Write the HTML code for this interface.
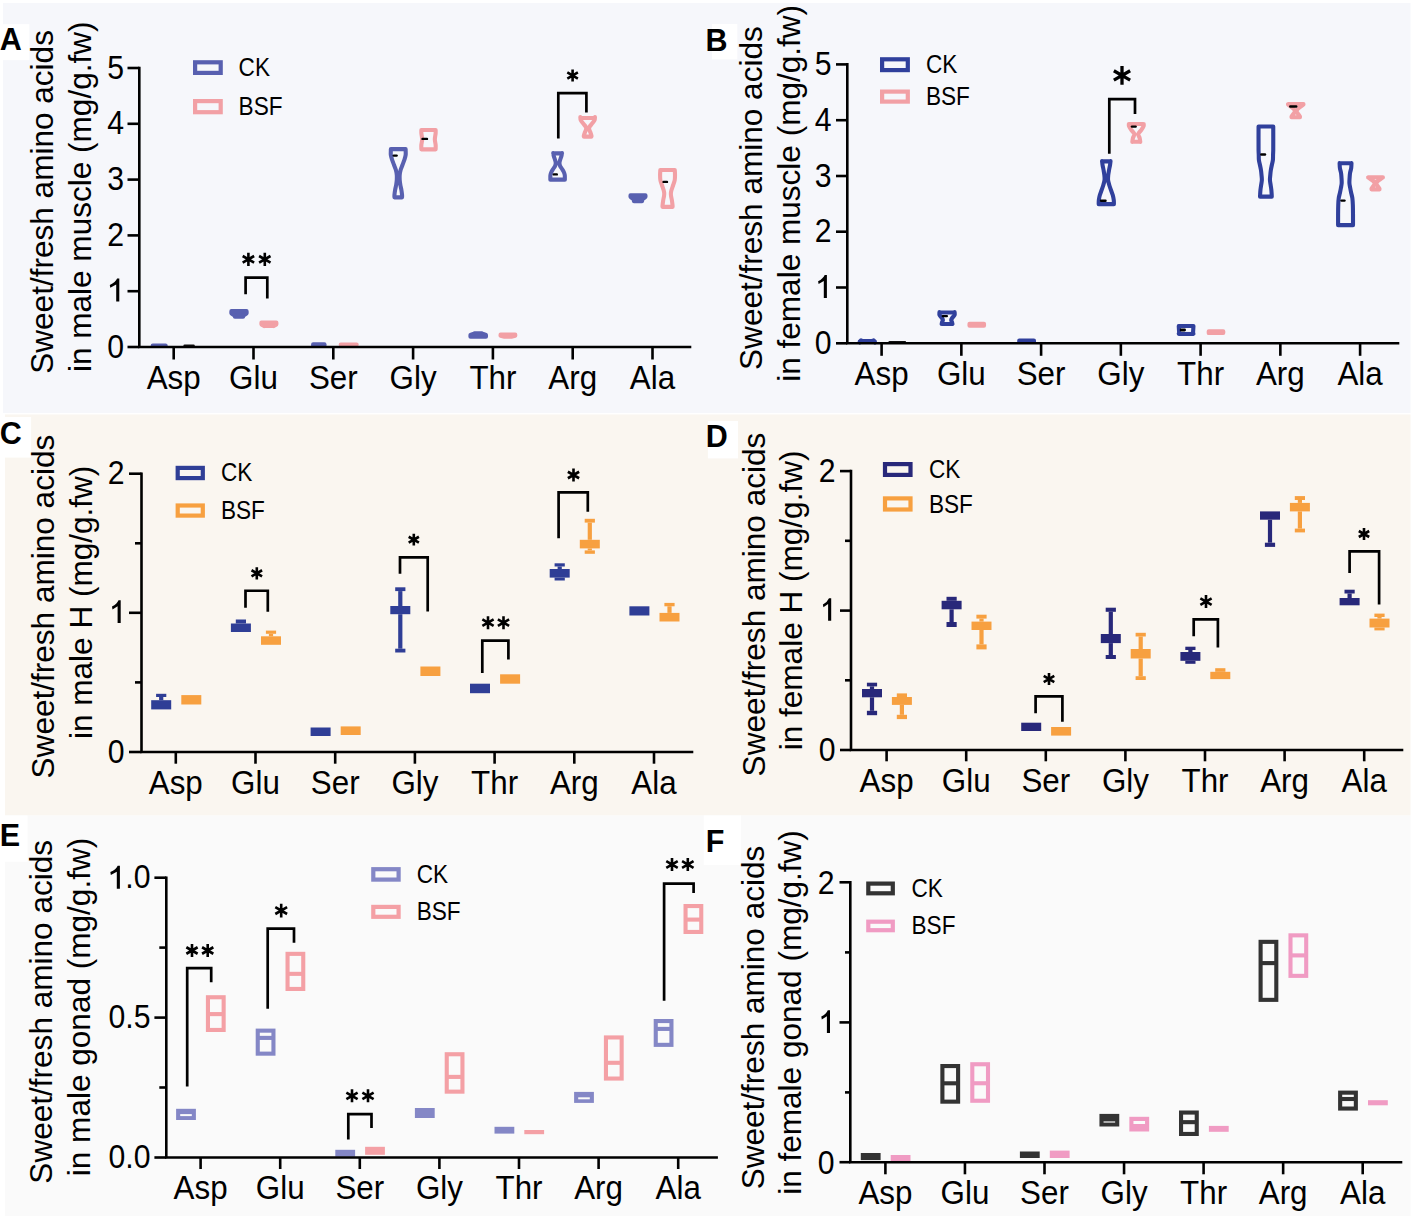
<!DOCTYPE html>
<html><head><meta charset="utf-8"><title>Sweet/fresh amino acids</title>
<style>html,body{margin:0;padding:0;background:#fff;width:1413px;height:1220px;overflow:hidden}svg{display:block}text{font-family:"Liberation Sans", sans-serif}</style>
</head><body>
<svg width="1413" height="1220" viewBox="0 0 1413 1220" font-family='"Liberation Sans", sans-serif' fill="#000">
<rect x="0" y="0" width="1413" height="1220" fill="#ffffff"/>
<rect x="3" y="3" width="1407.5" height="410" fill="#f6f7fb"/>
<rect x="5" y="414.5" width="1405.5" height="401" fill="#faf6f0"/>
<rect x="5" y="815.5" width="1405.5" height="400.5" fill="#fafafa"/>
<rect x="0" y="24.2" width="29.4" height="36" fill="#ffffff"/>
<rect x="712" y="24" width="25.3" height="35.4" fill="#ffffff"/>
<rect x="0" y="417" width="31.1" height="40.6" fill="#ffffff"/>
<rect x="707.9" y="421" width="30.1" height="37.4" fill="#ffffff"/>
<rect x="0" y="815.5" width="27.6" height="46.3" fill="#ffffff"/>
<rect x="703.7" y="815.5" width="37.3" height="49.5" fill="#ffffff"/>
<text x="-0.3" y="49.9" font-family='"Liberation Sans", sans-serif' font-weight="bold" font-size="30.5">A</text>
<text x="705.6" y="51" font-family='"Liberation Sans", sans-serif' font-weight="bold" font-size="30.5">B</text>
<text x="-0.2" y="444.4" font-family='"Liberation Sans", sans-serif' font-weight="bold" font-size="30.5">C</text>
<text x="705.7" y="446.8" font-family='"Liberation Sans", sans-serif' font-weight="bold" font-size="30.5">D</text>
<text x="-0.2" y="845.5" font-family='"Liberation Sans", sans-serif' font-weight="bold" font-size="30.5">E</text>
<text x="705.8" y="851.5" font-family='"Liberation Sans", sans-serif' font-weight="bold" font-size="30.5">F</text>
<path d="M165.65 345.75 L165.65 345.55 L152.75 345.55 L152.75 345.75Z" fill="#5860b0" stroke="#5860b0" stroke-width="4.1" stroke-linejoin="round"/>
<path d="M184.6 345.8H193.6" stroke="#111" stroke-width="2.4" stroke-linecap="round"/>
<path d="M246.55 311.05 C246.52 311.87 247.06 312.68 246.45 313.5 C245.96 314.17 243.95 314.83 243.25 315.5 C242.85 315.88 243.18 316.27 243.15 316.65 L234.85 316.65 C234.82 316.27 235.15 315.88 234.75 315.5 C234.05 314.83 232.04 314.17 231.55 313.5 C230.94 312.68 231.48 311.87 231.45 311.05Z" fill="#5860b0" stroke="#5860b0" stroke-width="4.1" stroke-linejoin="round"/>
<path d="M276.35 322.45 C276.32 323.13 276.73 323.82 276.25 324.5 C275.9 325 274.68 325.5 273.85 326 C273.88 325.98 273.85 325.97 273.85 325.95 L263.95 325.95 C263.95 325.97 263.92 325.98 263.95 326 C263.12 325.5 261.9 325 261.55 324.5 C261.07 323.82 261.48 323.13 261.45 322.45Z" fill="#f2a0a5" stroke="#f2a0a5" stroke-width="4.1" stroke-linejoin="round"/>
<path d="M324.45 344.25 L324.45 345.45 L313.15 345.45 L313.15 344.25Z" fill="#5860b0" stroke="#5860b0" stroke-width="4.1" stroke-linejoin="round"/>
<path d="M356.65 344.65 L356.65 344.45 L340.75 344.45 L340.75 344.65Z" fill="#f2a0a5" stroke="#f2a0a5" stroke-width="4.1" stroke-linejoin="round"/>
<path d="M405.65 149.15 C405.65 149.43 405.65 149.72 405.65 150 C405.65 151.67 405.88 153.33 405.65 155 C405.42 156.67 404.83 158.33 404.3 160 C403.77 161.67 403.07 163.33 402.45 165 C401.83 166.67 401.06 168.33 400.6 170 C400.14 171.67 399.85 173.33 399.7 175 C399.55 176.67 399.59 178.33 399.7 180 C399.81 181.67 400.07 183.33 400.35 185 C400.63 186.67 401.12 188.33 401.4 190 C401.68 191.67 401.9 193.33 402.05 195 C402.12 195.78 402.05 196.57 402.05 197.35 L394.45 197.35 C394.45 196.57 394.38 195.78 394.45 195 C394.6 193.33 394.82 191.67 395.1 190 C395.38 188.33 395.87 186.67 396.15 185 C396.43 183.33 396.69 181.67 396.8 180 C396.91 178.33 396.95 176.67 396.8 175 C396.65 173.33 396.36 171.67 395.9 170 C395.44 168.33 394.67 166.67 394.05 165 C393.43 163.33 392.73 161.67 392.2 160 C391.67 158.33 391.08 156.67 390.85 155 C390.62 153.33 390.85 151.67 390.85 150 C390.85 149.72 390.85 149.43 390.85 149.15Z" fill="none" stroke="#5860b0" stroke-width="4.1" stroke-linejoin="round"/>
<path d="M393.8 155.6H396.6" stroke="#000" stroke-width="2.4" stroke-linecap="round"/>
<path d="M435.65 129.95 C435.65 129.97 435.65 129.98 435.65 130 C435.65 131 435.73 132 435.65 133 C435.47 135.17 434.85 137.33 434.85 139.5 C434.85 141.33 435.5 143.17 435.65 145 C435.76 146.33 435.65 147.67 435.65 149 C435.65 149.12 435.65 149.23 435.65 149.35 L421.35 149.35 C421.35 149.23 421.35 149.12 421.35 149 C421.35 147.67 421.24 146.33 421.35 145 C421.5 143.17 422.15 141.33 422.15 139.5 C422.15 137.33 421.53 135.17 421.35 133 C421.27 132 421.35 131 421.35 130 C421.35 129.98 421.35 129.97 421.35 129.95Z" fill="none" stroke="#f2a0a5" stroke-width="4.1" stroke-linejoin="round"/>
<path d="M422.5 138.9H427" stroke="#000" stroke-width="2.4" stroke-linecap="round"/>
<path d="M481.95 333.35 L482.45 333.6 L485.95 335 L485.95 336.75 L470.45 336.75 L470.45 335 L473.95 333.6 L474.45 333.35Z" fill="#5860b0" stroke="#5860b0" stroke-width="4.1" stroke-linejoin="round"/>
<path d="M515.25 334.65 L515.25 335.8 L511.35 336.8 L511.15 336.75 L504.65 336.75 L504.45 336.8 L500.55 335.8 L500.55 334.65Z" fill="#f2a0a5" stroke="#f2a0a5" stroke-width="4.1" stroke-linejoin="round"/>
<path d="M562.05 153.35 C562.02 153.23 561.92 153.12 561.95 153 C561.72 154 561.71 155 561.45 156 C561.1 157.33 560.48 158.67 560.1 160 C559.81 161 559.45 162 559.45 163 C559.45 164 559.67 165 560.1 166 C560.53 167 561.43 168 562.05 169 C562.67 170 563.35 171 563.8 172 C564.25 173 564.58 174 564.75 175 C564.92 176 564.83 177 564.85 178 C564.86 178.55 564.85 179.1 564.85 179.65 L550.35 179.65 C550.35 179.1 550.34 178.55 550.35 178 C550.37 177 550.28 176 550.45 175 C550.62 174 550.95 173 551.4 172 C551.85 171 552.53 170 553.15 169 C553.77 168 554.67 167 555.1 166 C555.53 165 555.75 164 555.75 163 C555.75 162 555.39 161 555.1 160 C554.72 158.67 554.1 157.33 553.75 156 C553.49 155 553.48 154 553.25 153 C553.28 153.12 553.18 153.23 553.15 153.35Z" fill="none" stroke="#5860b0" stroke-width="4.1" stroke-linejoin="round"/>
<path d="M553.8 174.4H556.8" stroke="#000" stroke-width="2.4" stroke-linecap="round"/>
<path d="M594.95 117.95 C594.95 117.63 594.9 117.32 594.95 117 C594.78 118 595.01 119 594.6 120 C594.19 121 593.26 122 592.5 123 C591.74 124 590.73 125 590.05 126 C589.6 126.67 589.21 127.33 589.1 128 C588.99 128.67 589.2 129.33 589.4 130 C589.7 131 590.25 132 590.6 133 C590.95 134 591.28 135 591.5 136 C591.55 136.22 591.43 136.43 591.4 136.65 L583.9 136.65 C583.87 136.43 583.75 136.22 583.8 136 C584.02 135 584.35 134 584.7 133 C585.05 132 585.6 131 585.9 130 C586.1 129.33 586.31 128.67 586.2 128 C586.09 127.33 585.7 126.67 585.25 126 C584.57 125 583.56 124 582.8 123 C582.04 122 581.11 121 580.7 120 C580.29 119 580.52 118 580.35 117 C580.4 117.32 580.35 117.63 580.35 117.95Z" fill="none" stroke="#f2a0a5" stroke-width="4.1" stroke-linejoin="round"/>
<path d="M645.45 195.25 C645.42 195.83 645.79 196.42 645.35 197 C644.72 197.83 642.91 198.67 642.25 199.5 C641.81 200.05 642.12 200.6 642.05 201.15 L633.95 201.15 C633.88 200.6 634.19 200.05 633.75 199.5 C633.09 198.67 631.28 197.83 630.65 197 C630.21 196.42 630.58 195.83 630.55 195.25Z" fill="#5860b0" stroke="#5860b0" stroke-width="4.1" stroke-linejoin="round"/>
<path d="M674.8 169.95 C674.8 169.97 674.8 169.98 674.8 170 C674.87 171.67 675.01 173.33 675 175 C674.99 176.67 675.05 178.33 674.75 180 C674.45 181.67 673.74 183.33 673.2 185 C672.66 186.67 671.98 188.33 671.5 190 C671.21 191 670.98 192 670.9 193 C670.82 194 670.91 195 671.05 196 C671.23 197.33 671.64 198.67 671.85 200 C672.12 201.67 672.32 203.33 672.5 205 C672.57 205.62 672.57 206.23 672.6 206.85 L662.5 206.85 C662.53 206.23 662.53 205.62 662.6 205 C662.78 203.33 662.98 201.67 663.25 200 C663.46 198.67 663.87 197.33 664.05 196 C664.19 195 664.27 194 664.2 193 C664.12 192 663.89 191 663.6 190 C663.12 188.33 662.44 186.67 661.9 185 C661.36 183.33 660.65 181.67 660.35 180 C660.05 178.33 660.11 176.67 660.1 175 C660.09 173.33 660.23 171.67 660.3 170 C660.3 169.98 660.3 169.97 660.3 169.95Z" fill="none" stroke="#f2a0a5" stroke-width="4.1" stroke-linejoin="round"/>
<path d="M663.6 181.9H667" stroke="#000" stroke-width="2.4" stroke-linecap="round"/>
<path d="M245.6 294.2V277.65H267.3V298.4" stroke="#000" stroke-width="2.7" fill="none" stroke-linecap="butt" stroke-linejoin="miter"/>
<path d="M248.4 252.7V265.9M242.68 256L254.12 262.6M242.68 262.6L254.12 256" stroke="#000" stroke-width="2.6" fill="none"/>
<path d="M264.8 252.7V265.9M259.08 256L270.52 262.6M259.08 262.6L270.52 256" stroke="#000" stroke-width="2.6" fill="none"/>
<path d="M558.3 138.4V93.15H586.4V112.5" stroke="#000" stroke-width="2.7" fill="none" stroke-linecap="butt" stroke-linejoin="miter"/>
<path d="M572.6 69.4V81.6M567.32 72.45L577.88 78.55M567.32 78.55L577.88 72.45" stroke="#000" stroke-width="2.6" fill="none"/>
<path d="M139.3 68V347H690" stroke="#000" stroke-width="2.6" fill="none" stroke-linejoin="miter" stroke-linecap="square"/>
<path d="M127.5 68H139.3" stroke="#000" stroke-width="2.6"/>
<text transform="translate(124 78.6) scale(1 1.07)" font-size="30.2" text-anchor="end" >5</text>
<path d="M127.5 123.8H139.3" stroke="#000" stroke-width="2.6"/>
<text transform="translate(124 134.4) scale(1 1.07)" font-size="30.2" text-anchor="end" >4</text>
<path d="M127.5 179.6H139.3" stroke="#000" stroke-width="2.6"/>
<text transform="translate(124 190.2) scale(1 1.07)" font-size="30.2" text-anchor="end" >3</text>
<path d="M127.5 235.4H139.3" stroke="#000" stroke-width="2.6"/>
<text transform="translate(124 246) scale(1 1.07)" font-size="30.2" text-anchor="end" >2</text>
<path d="M127.5 291.2H139.3" stroke="#000" stroke-width="2.6"/>
<path d="M119.3 278.6L119.3 301.6L116.2 301.6L116.2 284.5L110.3 287.7L109.8 284.9Q115.6 282.2 117.1 278.6Z" fill="#000"/>
<path d="M127.5 347H139.3" stroke="#000" stroke-width="2.6"/>
<text transform="translate(124 357.6) scale(1 1.07)" font-size="30.2" text-anchor="end" >0</text>
<path d="M173.7 347V359.5" stroke="#000" stroke-width="2.6"/>
<text transform="translate(173.7 388.5) scale(1 1.08)" font-size="31.35" text-anchor="middle" >Asp</text>
<path d="M253.5 347V359.5" stroke="#000" stroke-width="2.6"/>
<text transform="translate(253.5 388.5) scale(1 1.08)" font-size="31.35" text-anchor="middle" >Glu</text>
<path d="M333.3 347V359.5" stroke="#000" stroke-width="2.6"/>
<text transform="translate(333.3 388.5) scale(1 1.08)" font-size="31.35" text-anchor="middle" >Ser</text>
<path d="M413.1 347V359.5" stroke="#000" stroke-width="2.6"/>
<text transform="translate(413.1 388.5) scale(1 1.08)" font-size="31.35" text-anchor="middle" >Gly</text>
<path d="M492.9 347V359.5" stroke="#000" stroke-width="2.6"/>
<text transform="translate(492.9 388.5) scale(1 1.08)" font-size="31.35" text-anchor="middle" >Thr</text>
<path d="M572.7 347V359.5" stroke="#000" stroke-width="2.6"/>
<text transform="translate(572.7 388.5) scale(1 1.08)" font-size="31.35" text-anchor="middle" >Arg</text>
<path d="M652.5 347V359.5" stroke="#000" stroke-width="2.6"/>
<text transform="translate(652.5 388.5) scale(1 1.08)" font-size="31.35" text-anchor="middle" >Ala</text>
<text transform="translate(52.8 201.9) rotate(-90)" font-size="31.55" text-anchor="middle">Sweet/fresh amino acids</text>
<text transform="translate(90.5 196.8) rotate(-90)" font-size="31.55" text-anchor="middle">in male muscle (mg/g.fw)</text>
<rect x="195.1" y="62.3" width="25.6" height="10.6" fill="none" stroke="#5860b0" stroke-width="4.2"/>
<text transform="translate(238.6 75.7) scale(1 1.1)" font-size="22.6" text-anchor="start" >CK</text>
<rect x="195.1" y="101.1" width="25.6" height="11.1" fill="none" stroke="#f2a0a5" stroke-width="4.2"/>
<text transform="translate(238.6 114.7) scale(1 1.1)" font-size="22.6" text-anchor="start" >BSF</text>
<path d="M871.75 340.95 C872.45 340.8 874.15 340.65 873.85 340.5 C875.2 341.17 874.16 341.83 874.9 342.5 C874.51 342.15 874.9 341.8 874.9 341.45 L859.7 341.45 C859.7 341.8 860.09 342.15 859.7 342.5 C860.44 341.83 859.4 341.17 860.75 340.5 C860.45 340.65 862.15 340.8 862.85 340.95Z" fill="#30409c" stroke="#30409c" stroke-width="4.1" stroke-linejoin="round"/>
<path d="M889.5 342.2H905" stroke="#111" stroke-width="2.3" stroke-linecap="round"/>
<path d="M954.6 312.45 C954.6 312.3 954.6 312.15 954.6 312 C954.6 313 955 314 954.6 315 C954.2 316 952.88 317 952.2 318 C951.75 318.67 951.23 319.33 951.2 320 C951.17 320.67 951.8 321.33 952 322 C952.2 322.67 952.23 323.33 952.4 324 C952.4 323.98 952.47 323.97 952.5 323.95 L941.6 323.95 C941.63 323.97 941.7 323.98 941.7 324 C941.87 323.33 941.9 322.67 942.1 322 C942.3 321.33 942.93 320.67 942.9 320 C942.87 319.33 942.35 318.67 941.9 318 C941.22 317 939.9 316 939.5 315 C939.1 314 939.5 313 939.5 312 C939.5 312.15 939.5 312.3 939.5 312.45Z" fill="none" stroke="#30409c" stroke-width="4.1" stroke-linejoin="round"/>
<path d="M942.85 316.1H946.85" stroke="#000" stroke-width="2.4" stroke-linecap="round"/>
<path d="M984 323.85 L984 325.65 L969.5 325.65 L969.5 323.85Z" fill="#f2a0a5" stroke="#f2a0a5" stroke-width="4.1" stroke-linejoin="round"/>
<path d="M1033.95 340.55 L1033.95 341.25 L1019.25 341.25 L1019.25 340.55Z" fill="#30409c" stroke="#30409c" stroke-width="4.1" stroke-linejoin="round"/>
<path d="M1110.55 161.35 C1110.55 161.23 1110.53 161.12 1110.55 161 C1110.37 162.33 1110.27 163.67 1110.05 165 C1109.77 166.67 1109.35 168.33 1109.05 170 C1108.75 171.67 1108.42 173.33 1108.25 175 C1108.08 176.67 1107.88 178.33 1108.05 180 C1108.22 181.67 1108.77 183.33 1109.25 185 C1109.73 186.67 1110.37 188.33 1110.95 190 C1111.53 191.67 1112.28 193.33 1112.75 195 C1113.22 196.67 1113.51 198.33 1113.75 200 C1113.89 201 1113.86 202 1113.9 203 C1113.91 203.38 1113.9 203.77 1113.9 204.15 L1098.7 204.15 C1098.7 203.77 1098.69 203.38 1098.7 203 C1098.74 202 1098.71 201 1098.85 200 C1099.09 198.33 1099.38 196.67 1099.85 195 C1100.32 193.33 1101.07 191.67 1101.65 190 C1102.23 188.33 1102.87 186.67 1103.35 185 C1103.83 183.33 1104.38 181.67 1104.55 180 C1104.72 178.33 1104.52 176.67 1104.35 175 C1104.18 173.33 1103.85 171.67 1103.55 170 C1103.25 168.33 1102.83 166.67 1102.55 165 C1102.33 163.67 1102.23 162.33 1102.05 161 C1102.07 161.12 1102.05 161.23 1102.05 161.35Z" fill="none" stroke="#30409c" stroke-width="4.1" stroke-linejoin="round"/>
<path d="M1101.05 200.7H1105.55" stroke="#000" stroke-width="2.4" stroke-linecap="round"/>
<path d="M1143.75 124.05 C1143.73 124.03 1143.7 124.02 1143.7 124 C1143.67 124.67 1143.92 125.33 1143.65 126 C1143.11 127.33 1142.15 128.67 1141.25 130 C1140.35 131.33 1138.52 132.67 1138.25 134 C1137.98 135.33 1139.31 136.67 1139.65 138 C1139.99 139.33 1140.09 140.67 1140.3 142 C1140.29 141.92 1140.27 141.83 1140.25 141.75 L1132.35 141.75 C1132.33 141.83 1132.31 141.92 1132.3 142 C1132.51 140.67 1132.61 139.33 1132.95 138 C1133.29 136.67 1134.62 135.33 1134.35 134 C1134.08 132.67 1132.25 131.33 1131.35 130 C1130.45 128.67 1129.49 127.33 1128.95 126 C1128.68 125.33 1128.93 124.67 1128.9 124 C1128.9 124.02 1128.87 124.03 1128.85 124.05Z" fill="none" stroke="#f2a0a5" stroke-width="4.1" stroke-linejoin="round"/>
<path d="M1131.95 126.6H1135.65" stroke="#000" stroke-width="2.4" stroke-linecap="round"/>
<path d="M1193.45 326.05 L1193.05 332.5 L1193.45 333.85 L1178.75 333.85 L1179.15 332.5 L1178.75 326.05Z" fill="none" stroke="#30409c" stroke-width="4.1" stroke-linejoin="round"/>
<rect x="1181.1" y="328.3" width="9.9" height="3.5" fill="#f6f7fb"/>
<path d="M1181.1 330H1184.6" stroke="#000" stroke-width="2.8" stroke-linecap="round"/>
<path d="M1223.25 331.35 L1223.25 333 L1222.45 332.95 L1209.55 332.95 L1208.75 333 L1208.75 331.35Z" fill="#f2a0a5" stroke="#f2a0a5" stroke-width="4.1" stroke-linejoin="round"/>
<path d="M1273.25 126.55 C1273.25 126.7 1273.25 126.85 1273.25 127 C1273.25 134.67 1273.3 142.33 1273.25 150 C1273.24 151.67 1273.11 153.33 1273.05 155 C1272.99 156.67 1273.1 158.33 1272.9 160 C1272.7 161.67 1272.19 163.33 1271.85 165 C1271.51 166.67 1271.11 168.33 1270.85 170 C1270.59 171.67 1270.45 173.33 1270.3 175 C1270.15 176.67 1269.89 178.33 1269.95 180 C1270.01 181.67 1270.42 183.33 1270.65 185 C1270.88 186.67 1271.18 188.33 1271.35 190 C1271.53 191.67 1271.6 193.33 1271.7 195 C1271.73 195.55 1271.73 196.1 1271.75 196.65 L1260.05 196.65 C1260.07 196.1 1260.07 195.55 1260.1 195 C1260.2 193.33 1260.28 191.67 1260.45 190 C1260.62 188.33 1260.92 186.67 1261.15 185 C1261.38 183.33 1261.79 181.67 1261.85 180 C1261.91 178.33 1261.65 176.67 1261.5 175 C1261.35 173.33 1261.21 171.67 1260.95 170 C1260.69 168.33 1260.29 166.67 1259.95 165 C1259.61 163.33 1259.1 161.67 1258.9 160 C1258.7 158.33 1258.81 156.67 1258.75 155 C1258.69 153.33 1258.56 151.67 1258.55 150 C1258.5 142.33 1258.55 134.67 1258.55 127 C1258.55 126.85 1258.55 126.7 1258.55 126.55Z" fill="none" stroke="#30409c" stroke-width="4.1" stroke-linejoin="round"/>
<path d="M1261.3 154.5H1265" stroke="#000" stroke-width="2.4" stroke-linecap="round"/>
<path d="M1303.5 104.15 C1303.47 104.27 1303.52 104.38 1303.4 104.5 C1301.26 106.5 1297.28 108.5 1296.7 110.5 C1296.12 112.5 1298.92 114.5 1299.9 116.5 C1300.02 116.75 1299.97 117 1300 117.25 L1291.5 117.25 C1291.53 117 1291.48 116.75 1291.6 116.5 C1292.58 114.5 1295.38 112.5 1294.8 110.5 C1294.22 108.5 1290.24 106.5 1288.1 104.5 C1287.98 104.38 1288.03 104.27 1288 104.15Z" fill="none" stroke="#f2a0a5" stroke-width="4.1" stroke-linejoin="round"/>
<path d="M1290.25 106.5H1296.25" stroke="#000" stroke-width="2.4" stroke-linecap="round"/>
<path d="M1351.5 163.25 C1351.5 163.17 1351.49 163.08 1351.5 163 C1351.39 164.67 1351.44 166.33 1351.2 168 C1350.96 169.67 1350.32 171.33 1350.05 173 C1349.78 174.67 1349.71 176.33 1349.6 178 C1349.49 179.67 1349.3 181.33 1349.4 183 C1349.5 184.67 1349.9 186.33 1350.2 188 C1350.5 189.67 1350.84 191.33 1351.2 193 C1351.56 194.67 1352.12 196.33 1352.35 198 C1352.67 200.33 1352.76 202.67 1352.85 205 C1352.98 208.33 1352.98 211.67 1353 215 C1353.03 218.38 1353 221.77 1353 225.15 L1338.1 225.15 C1338.1 221.77 1338.07 218.38 1338.1 215 C1338.12 211.67 1338.12 208.33 1338.25 205 C1338.34 202.67 1338.43 200.33 1338.75 198 C1338.98 196.33 1339.54 194.67 1339.9 193 C1340.26 191.33 1340.6 189.67 1340.9 188 C1341.2 186.33 1341.6 184.67 1341.7 183 C1341.8 181.33 1341.61 179.67 1341.5 178 C1341.39 176.33 1341.32 174.67 1341.05 173 C1340.78 171.33 1340.14 169.67 1339.9 168 C1339.66 166.33 1339.71 164.67 1339.6 163 C1339.61 163.08 1339.6 163.17 1339.6 163.25Z" fill="none" stroke="#30409c" stroke-width="4.1" stroke-linejoin="round"/>
<path d="M1341.5 200.6H1344.5" stroke="#000" stroke-width="2.4" stroke-linecap="round"/>
<path d="M1382.9 177.35 C1382.88 177.4 1382.91 177.45 1382.85 177.5 C1380.76 179.27 1377 181.03 1376.45 182.8 C1375.86 184.7 1378.57 186.6 1379.45 188.5 C1379.58 188.78 1379.48 189.07 1379.5 189.35 L1371.5 189.35 C1371.52 189.07 1371.42 188.78 1371.55 188.5 C1372.43 186.6 1375.14 184.7 1374.55 182.8 C1374 181.03 1370.24 179.27 1368.15 177.5 C1368.09 177.45 1368.12 177.4 1368.1 177.35Z" fill="none" stroke="#f2a0a5" stroke-width="4.1" stroke-linejoin="round"/>
<path d="M1109.3 153.8V99.15H1135V113.9" stroke="#000" stroke-width="2.7" fill="none" stroke-linecap="butt" stroke-linejoin="miter"/>
<path d="M1122 66V84.8M1113.86 70.7L1130.14 80.1M1113.86 80.1L1130.14 70.7" stroke="#000" stroke-width="3.3" fill="none"/>
<path d="M847.3 64.4V343.3H1398" stroke="#000" stroke-width="2.6" fill="none" stroke-linejoin="miter" stroke-linecap="square"/>
<path d="M836 64.4H847.3" stroke="#000" stroke-width="2.6"/>
<text transform="translate(831.5 75) scale(1 1.07)" font-size="30.2" text-anchor="end" >5</text>
<path d="M836 120.2H847.3" stroke="#000" stroke-width="2.6"/>
<text transform="translate(831.5 130.8) scale(1 1.07)" font-size="30.2" text-anchor="end" >4</text>
<path d="M836 176H847.3" stroke="#000" stroke-width="2.6"/>
<text transform="translate(831.5 186.6) scale(1 1.07)" font-size="30.2" text-anchor="end" >3</text>
<path d="M836 231.7H847.3" stroke="#000" stroke-width="2.6"/>
<text transform="translate(831.5 242.3) scale(1 1.07)" font-size="30.2" text-anchor="end" >2</text>
<path d="M836 287.5H847.3" stroke="#000" stroke-width="2.6"/>
<path d="M826.9 275L826.9 298L823.8 298L823.8 280.9L818.6 284.1L818.1 281.3Q823.2 278.6 824.7 275Z" fill="#000"/>
<path d="M836 343.3H847.3" stroke="#000" stroke-width="2.6"/>
<text transform="translate(831.5 353.9) scale(1 1.07)" font-size="30.2" text-anchor="end" >0</text>
<path d="M881.6 343.3V355.8" stroke="#000" stroke-width="2.6"/>
<text transform="translate(881.6 384.8) scale(1 1.08)" font-size="31.35" text-anchor="middle" >Asp</text>
<path d="M961.35 343.3V355.8" stroke="#000" stroke-width="2.6"/>
<text transform="translate(961.35 384.8) scale(1 1.08)" font-size="31.35" text-anchor="middle" >Glu</text>
<path d="M1041.1 343.3V355.8" stroke="#000" stroke-width="2.6"/>
<text transform="translate(1041.1 384.8) scale(1 1.08)" font-size="31.35" text-anchor="middle" >Ser</text>
<path d="M1120.85 343.3V355.8" stroke="#000" stroke-width="2.6"/>
<text transform="translate(1120.85 384.8) scale(1 1.08)" font-size="31.35" text-anchor="middle" >Gly</text>
<path d="M1200.6 343.3V355.8" stroke="#000" stroke-width="2.6"/>
<text transform="translate(1200.6 384.8) scale(1 1.08)" font-size="31.35" text-anchor="middle" >Thr</text>
<path d="M1280.35 343.3V355.8" stroke="#000" stroke-width="2.6"/>
<text transform="translate(1280.35 384.8) scale(1 1.08)" font-size="31.35" text-anchor="middle" >Arg</text>
<path d="M1360.1 343.3V355.8" stroke="#000" stroke-width="2.6"/>
<text transform="translate(1360.1 384.8) scale(1 1.08)" font-size="31.35" text-anchor="middle" >Ala</text>
<text transform="translate(762.2 198.1) rotate(-90)" font-size="31.55" text-anchor="middle">Sweet/fresh amino acids</text>
<text transform="translate(799.5 193.35) rotate(-90)" font-size="31.55" text-anchor="middle">in female muscle (mg/g.fw)</text>
<rect x="882.1" y="59.3" width="25.7" height="10.8" fill="none" stroke="#30409c" stroke-width="4.2"/>
<text transform="translate(925.9 73) scale(1 1.1)" font-size="22.6" text-anchor="start" >CK</text>
<rect x="882.1" y="91.6" width="25.7" height="10" fill="none" stroke="#f2a0a5" stroke-width="4.2"/>
<text transform="translate(925.9 105) scale(1 1.1)" font-size="22.6" text-anchor="start" >BSF</text>
<rect x="151.2" y="700.2" width="20" height="9.2" fill="#2f3e96"/>
<rect x="159.1" y="697" width="4.2" height="3.2" fill="#2f3e96"/>
<rect x="156.1" y="693.8" width="10.2" height="3.2" fill="#2f3e96"/>
<rect x="181.3" y="695.1" width="20" height="9.4" fill="#f7a040"/>
<rect x="230.9" y="623.5" width="20" height="8.5" fill="#2f3e96"/>
<rect x="238.8" y="623.5" width="4.2" height="0" fill="#2f3e96"/>
<rect x="235.8" y="619.5" width="10.2" height="4" fill="#2f3e96"/>
<rect x="261" y="636.3" width="20" height="8.5" fill="#f7a040"/>
<rect x="268.9" y="633.8" width="4.2" height="2.5" fill="#f7a040"/>
<rect x="265.9" y="630.6" width="10.2" height="3.2" fill="#f7a040"/>
<rect x="310.6" y="727.5" width="20" height="8.5" fill="#2f3e96"/>
<rect x="340.7" y="726.4" width="20" height="8.6" fill="#f7a040"/>
<rect x="390.3" y="606" width="20" height="8.2" fill="#2f3e96"/>
<rect x="398.2" y="591.1" width="4.2" height="14.9" fill="#2f3e96"/>
<rect x="395.2" y="587.3" width="10.2" height="3.8" fill="#2f3e96"/>
<rect x="398.2" y="614.2" width="4.2" height="34.5" fill="#2f3e96"/>
<rect x="395.2" y="648.7" width="10.2" height="3.8" fill="#2f3e96"/>
<rect x="420.4" y="666.5" width="20" height="9.5" fill="#f7a040"/>
<rect x="470" y="683.7" width="20" height="9.5" fill="#2f3e96"/>
<rect x="500.1" y="674.3" width="20" height="9.4" fill="#f7a040"/>
<rect x="549.7" y="569" width="20" height="8.6" fill="#2f3e96"/>
<rect x="557.6" y="566.5" width="4.2" height="2.5" fill="#2f3e96"/>
<rect x="554.6" y="563.3" width="10.2" height="3.2" fill="#2f3e96"/>
<rect x="557.6" y="577.6" width="4.2" height="0" fill="#2f3e96"/>
<rect x="554.6" y="577.6" width="10.2" height="2.9" fill="#2f3e96"/>
<rect x="579.8" y="539.8" width="20" height="8.6" fill="#f7a040"/>
<rect x="587.7" y="522.6" width="4.2" height="17.2" fill="#f7a040"/>
<rect x="584.7" y="518.8" width="10.2" height="3.8" fill="#f7a040"/>
<rect x="587.7" y="548.4" width="4.2" height="2" fill="#f7a040"/>
<rect x="584.7" y="550.4" width="10.2" height="3.4" fill="#f7a040"/>
<rect x="629.4" y="606.3" width="20" height="9.2" fill="#2f3e96"/>
<rect x="659.5" y="612.9" width="20" height="8.6" fill="#f7a040"/>
<rect x="667.4" y="606.3" width="4.2" height="6.6" fill="#f7a040"/>
<rect x="664.4" y="602.9" width="10.2" height="3.4" fill="#f7a040"/>
<path d="M245.5 607.8V590.75H267.8V611.8" stroke="#000" stroke-width="2.7" fill="none" stroke-linecap="butt" stroke-linejoin="miter"/>
<path d="M256.8 567.2V579.4M251.52 570.25L262.08 576.35M251.52 576.35L262.08 570.25" stroke="#000" stroke-width="2.6" fill="none"/>
<path d="M400 573.7V557.35H427.7V611.4" stroke="#000" stroke-width="2.7" fill="none" stroke-linecap="butt" stroke-linejoin="miter"/>
<path d="M413.8 533.8V545.6M408.69 536.75L418.91 542.65M408.69 542.65L418.91 536.75" stroke="#000" stroke-width="2.6" fill="none"/>
<path d="M482.3 673V640.65H508.4V659.4" stroke="#000" stroke-width="2.7" fill="none" stroke-linecap="butt" stroke-linejoin="miter"/>
<path d="M488 616.2V629.2M482.37 619.45L493.63 625.95M482.37 625.95L493.63 619.45" stroke="#000" stroke-width="2.6" fill="none"/>
<path d="M503.5 616.2V629.2M497.87 619.45L509.13 625.95M497.87 625.95L509.13 619.45" stroke="#000" stroke-width="2.6" fill="none"/>
<path d="M558.6 538.3V492.35H587.8V511.7" stroke="#000" stroke-width="2.7" fill="none" stroke-linecap="butt" stroke-linejoin="miter"/>
<path d="M573.5 468.5V481.5M567.87 471.75L579.13 478.25M567.87 478.25L579.13 471.75" stroke="#000" stroke-width="2.6" fill="none"/>
<path d="M141.5 473.7V752H692" stroke="#000" stroke-width="2.6" fill="none" stroke-linejoin="miter" stroke-linecap="square"/>
<path d="M129 473.7H141.5" stroke="#000" stroke-width="2.6"/>
<text transform="translate(124.5 484.3) scale(1 1.07)" font-size="30.2" text-anchor="end" >2</text>
<path d="M129 612.8H141.5" stroke="#000" stroke-width="2.6"/>
<path d="M120.7 600.3L120.7 623L117.6 623L117.6 606.2L112.5 609.4L112 606.6Q117 603.9 118.5 600.3Z" fill="#000"/>
<path d="M129 752H141.5" stroke="#000" stroke-width="2.6"/>
<text transform="translate(124.5 762.6) scale(1 1.07)" font-size="30.2" text-anchor="end" >0</text>
<path d="M135 543.3H141.5" stroke="#000" stroke-width="2.6"/>
<path d="M135 682.4H141.5" stroke="#000" stroke-width="2.6"/>
<path d="M175.8 752V763.7" stroke="#000" stroke-width="2.6"/>
<text transform="translate(175.8 793.5) scale(1 1.08)" font-size="31.35" text-anchor="middle" >Asp</text>
<path d="M255.5 752V763.7" stroke="#000" stroke-width="2.6"/>
<text transform="translate(255.5 793.5) scale(1 1.08)" font-size="31.35" text-anchor="middle" >Glu</text>
<path d="M335.2 752V763.7" stroke="#000" stroke-width="2.6"/>
<text transform="translate(335.2 793.5) scale(1 1.08)" font-size="31.35" text-anchor="middle" >Ser</text>
<path d="M414.9 752V763.7" stroke="#000" stroke-width="2.6"/>
<text transform="translate(414.9 793.5) scale(1 1.08)" font-size="31.35" text-anchor="middle" >Gly</text>
<path d="M494.6 752V763.7" stroke="#000" stroke-width="2.6"/>
<text transform="translate(494.6 793.5) scale(1 1.08)" font-size="31.35" text-anchor="middle" >Thr</text>
<path d="M574.3 752V763.7" stroke="#000" stroke-width="2.6"/>
<text transform="translate(574.3 793.5) scale(1 1.08)" font-size="31.35" text-anchor="middle" >Arg</text>
<path d="M654 752V763.7" stroke="#000" stroke-width="2.6"/>
<text transform="translate(654 793.5) scale(1 1.08)" font-size="31.35" text-anchor="middle" >Ala</text>
<text transform="translate(54.1 606.6) rotate(-90)" font-size="31.55" text-anchor="middle">Sweet/fresh amino acids</text>
<text transform="translate(91.8 602.35) rotate(-90)" font-size="31.55" text-anchor="middle">in male H (mg/g.fw)</text>
<rect x="177.7" y="467.9" width="25.1" height="10.2" fill="none" stroke="#2f3e96" stroke-width="4.2"/>
<text transform="translate(220.9 481.2) scale(1 1.1)" font-size="22.6" text-anchor="start" >CK</text>
<rect x="177.7" y="505.5" width="25.1" height="10.1" fill="none" stroke="#f7a040" stroke-width="4.2"/>
<text transform="translate(220.9 518.9) scale(1 1.1)" font-size="22.6" text-anchor="start" >BSF</text>
<rect x="862" y="689" width="20" height="8.3" fill="#28287a"/>
<rect x="869.9" y="686.4" width="4.2" height="2.6" fill="#28287a"/>
<rect x="866.9" y="682.7" width="10.2" height="3.7" fill="#28287a"/>
<rect x="869.9" y="697.3" width="4.2" height="13.5" fill="#28287a"/>
<rect x="866.9" y="710.8" width="10.2" height="4.4" fill="#28287a"/>
<rect x="891.9" y="697" width="20" height="7.9" fill="#f7a040"/>
<rect x="899.8" y="697" width="4.2" height="0" fill="#f7a040"/>
<rect x="896.8" y="693.4" width="10.2" height="3.6" fill="#f7a040"/>
<rect x="899.8" y="704.9" width="4.2" height="9.9" fill="#f7a040"/>
<rect x="896.8" y="714.8" width="10.2" height="4.3" fill="#f7a040"/>
<rect x="941.6" y="600.8" width="20" height="8.5" fill="#28287a"/>
<rect x="949.5" y="600.8" width="4.2" height="0" fill="#28287a"/>
<rect x="946.5" y="596.8" width="10.2" height="4" fill="#28287a"/>
<rect x="949.5" y="609.3" width="4.2" height="12.7" fill="#28287a"/>
<rect x="946.5" y="622" width="10.2" height="5" fill="#28287a"/>
<rect x="971.5" y="621.6" width="20" height="8.4" fill="#f7a040"/>
<rect x="979.4" y="618.6" width="4.2" height="3" fill="#f7a040"/>
<rect x="976.4" y="614.7" width="10.2" height="3.9" fill="#f7a040"/>
<rect x="979.4" y="630" width="4.2" height="14.4" fill="#f7a040"/>
<rect x="976.4" y="644.4" width="10.2" height="5" fill="#f7a040"/>
<rect x="1021.2" y="722.7" width="20" height="8.3" fill="#28287a"/>
<rect x="1051.1" y="727" width="20" height="8.6" fill="#f7a040"/>
<rect x="1100.8" y="634" width="20" height="9.1" fill="#28287a"/>
<rect x="1108.7" y="611.8" width="4.2" height="22.2" fill="#28287a"/>
<rect x="1105.7" y="607.7" width="10.2" height="4.1" fill="#28287a"/>
<rect x="1108.7" y="643.1" width="4.2" height="11.9" fill="#28287a"/>
<rect x="1105.7" y="655" width="10.2" height="4" fill="#28287a"/>
<rect x="1130.7" y="649" width="20" height="9.5" fill="#f7a040"/>
<rect x="1138.6" y="636.5" width="4.2" height="12.5" fill="#f7a040"/>
<rect x="1135.6" y="632.8" width="10.2" height="3.7" fill="#f7a040"/>
<rect x="1138.6" y="658.5" width="4.2" height="17.7" fill="#f7a040"/>
<rect x="1135.6" y="676.2" width="10.2" height="3.8" fill="#f7a040"/>
<rect x="1180.4" y="652" width="20" height="8.8" fill="#28287a"/>
<rect x="1188.3" y="650" width="4.2" height="2" fill="#28287a"/>
<rect x="1185.3" y="646.7" width="10.2" height="3.3" fill="#28287a"/>
<rect x="1188.3" y="660.8" width="4.2" height="0" fill="#28287a"/>
<rect x="1185.3" y="660.8" width="10.2" height="3" fill="#28287a"/>
<rect x="1210.3" y="671.8" width="20" height="7.3" fill="#f7a040"/>
<rect x="1218.2" y="671.8" width="4.2" height="0" fill="#f7a040"/>
<rect x="1215.2" y="668.2" width="10.2" height="3.6" fill="#f7a040"/>
<rect x="1260" y="511.4" width="20" height="8.3" fill="#28287a"/>
<rect x="1267.9" y="519.7" width="4.2" height="23" fill="#28287a"/>
<rect x="1264.9" y="542.7" width="10.2" height="4.2" fill="#28287a"/>
<rect x="1289.9" y="502.9" width="20" height="8.5" fill="#f7a040"/>
<rect x="1297.8" y="500" width="4.2" height="2.9" fill="#f7a040"/>
<rect x="1294.8" y="496.1" width="10.2" height="3.9" fill="#f7a040"/>
<rect x="1297.8" y="511.4" width="4.2" height="17.2" fill="#f7a040"/>
<rect x="1294.8" y="528.6" width="10.2" height="3.8" fill="#f7a040"/>
<rect x="1339.6" y="598" width="20" height="7.3" fill="#28287a"/>
<rect x="1347.5" y="593.5" width="4.2" height="4.5" fill="#28287a"/>
<rect x="1344.5" y="589.7" width="10.2" height="3.8" fill="#28287a"/>
<rect x="1369.5" y="618.6" width="20" height="8.9" fill="#f7a040"/>
<rect x="1377.4" y="617" width="4.2" height="1.6" fill="#f7a040"/>
<rect x="1374.4" y="613.6" width="10.2" height="3.4" fill="#f7a040"/>
<rect x="1377.4" y="627.5" width="4.2" height="0" fill="#f7a040"/>
<rect x="1374.4" y="627.5" width="10.2" height="2.9" fill="#f7a040"/>
<path d="M1035.6 713.2V696.35H1062.4V721.7" stroke="#000" stroke-width="2.7" fill="none" stroke-linecap="butt" stroke-linejoin="miter"/>
<path d="M1049 672.9V685.1M1043.72 675.95L1054.28 682.05M1043.72 682.05L1054.28 675.95" stroke="#000" stroke-width="2.6" fill="none"/>
<path d="M1193.7 636.3V619.35H1217.9V647.6" stroke="#000" stroke-width="2.7" fill="none" stroke-linecap="butt" stroke-linejoin="miter"/>
<path d="M1206 595.1V608.1M1200.37 598.35L1211.63 604.85M1200.37 604.85L1211.63 598.35" stroke="#000" stroke-width="2.6" fill="none"/>
<path d="M1349.6 572.9V551.45H1379.1V604.5" stroke="#000" stroke-width="2.7" fill="none" stroke-linecap="butt" stroke-linejoin="miter"/>
<path d="M1364 528V540M1358.8 531L1369.2 537M1358.8 537L1369.2 531" stroke="#000" stroke-width="2.6" fill="none"/>
<path d="M851 471.1V750H1402" stroke="#000" stroke-width="2.6" fill="none" stroke-linejoin="miter" stroke-linecap="square"/>
<path d="M840 471.1H851" stroke="#000" stroke-width="2.6"/>
<text transform="translate(835.5 481.7) scale(1 1.07)" font-size="30.2" text-anchor="end" >2</text>
<path d="M840 610.6H851" stroke="#000" stroke-width="2.6"/>
<path d="M831.2 598.2L831.2 620.7L828.1 620.7L828.1 604.1L823.4 607.3L822.9 604.5Q827.5 601.8 829 598.2Z" fill="#000"/>
<path d="M840 750H851" stroke="#000" stroke-width="2.6"/>
<text transform="translate(835.5 760.6) scale(1 1.07)" font-size="30.2" text-anchor="end" >0</text>
<path d="M845 540.8H851" stroke="#000" stroke-width="2.6"/>
<path d="M845 680.3H851" stroke="#000" stroke-width="2.6"/>
<path d="M886.6 750V761.3" stroke="#000" stroke-width="2.6"/>
<text transform="translate(886.6 791.5) scale(1 1.08)" font-size="31.35" text-anchor="middle" >Asp</text>
<path d="M966.2 750V761.3" stroke="#000" stroke-width="2.6"/>
<text transform="translate(966.2 791.5) scale(1 1.08)" font-size="31.35" text-anchor="middle" >Glu</text>
<path d="M1045.8 750V761.3" stroke="#000" stroke-width="2.6"/>
<text transform="translate(1045.8 791.5) scale(1 1.08)" font-size="31.35" text-anchor="middle" >Ser</text>
<path d="M1125.4 750V761.3" stroke="#000" stroke-width="2.6"/>
<text transform="translate(1125.4 791.5) scale(1 1.08)" font-size="31.35" text-anchor="middle" >Gly</text>
<path d="M1205 750V761.3" stroke="#000" stroke-width="2.6"/>
<text transform="translate(1205 791.5) scale(1 1.08)" font-size="31.35" text-anchor="middle" >Thr</text>
<path d="M1284.6 750V761.3" stroke="#000" stroke-width="2.6"/>
<text transform="translate(1284.6 791.5) scale(1 1.08)" font-size="31.35" text-anchor="middle" >Arg</text>
<path d="M1364.2 750V761.3" stroke="#000" stroke-width="2.6"/>
<text transform="translate(1364.2 791.5) scale(1 1.08)" font-size="31.35" text-anchor="middle" >Ala</text>
<text transform="translate(765 604.55) rotate(-90)" font-size="31.55" text-anchor="middle">Sweet/fresh amino acids</text>
<text transform="translate(802 600.4) rotate(-90)" font-size="31.55" text-anchor="middle">in female H (mg/g.fw)</text>
<rect x="885" y="464.1" width="25.5" height="10.8" fill="none" stroke="#28287a" stroke-width="4.2"/>
<text transform="translate(928.9 477.9) scale(1 1.1)" font-size="22.6" text-anchor="start" >CK</text>
<rect x="885" y="498.4" width="25.5" height="11.1" fill="none" stroke="#f7a040" stroke-width="4.2"/>
<text transform="translate(928.9 512.5) scale(1 1.1)" font-size="22.6" text-anchor="start" >BSF</text>
<rect x="176.1" y="1108.8" width="19.8" height="11.2" fill="#8487c6"/>
<rect x="180.2" y="1114.1" width="11.6" height="2" fill="#fafafa"/>
<rect x="207.95" y="997.25" width="15.7" height="32.7" fill="none" stroke="#f4a0a5" stroke-width="4.1"/>
<path d="M207.95 1014.1H223.65" stroke="#f4a0a5" stroke-width="4.1"/>
<rect x="257.75" y="1030.65" width="15.7" height="23" fill="none" stroke="#8487c6" stroke-width="4.1"/>
<path d="M257.75 1037.9H273.45" stroke="#8487c6" stroke-width="4.1"/>
<rect x="287.55" y="953.85" width="15.7" height="35.1" fill="none" stroke="#f4a0a5" stroke-width="4.1"/>
<path d="M287.55 973.85H303.25" stroke="#f4a0a5" stroke-width="4.1"/>
<rect x="335.3" y="1149.8" width="19.8" height="6.9" fill="#8487c6"/>
<rect x="365.1" y="1146.8" width="19.8" height="8" fill="#f4a0a5"/>
<rect x="414.9" y="1108" width="19.8" height="10" fill="#8487c6"/>
<rect x="446.75" y="1054.25" width="15.7" height="37.4" fill="none" stroke="#f4a0a5" stroke-width="4.1"/>
<path d="M446.75 1076.9H462.45" stroke="#f4a0a5" stroke-width="4.1"/>
<rect x="494.5" y="1126.8" width="19.8" height="6.8" fill="#8487c6"/>
<rect x="524.3" y="1130" width="19.8" height="4.2" fill="#f4a0a5"/>
<rect x="574.1" y="1091.9" width="19.8" height="11" fill="#8487c6"/>
<rect x="578.2" y="1097.3" width="11.6" height="2" fill="#fafafa"/>
<rect x="605.95" y="1037.45" width="15.7" height="41.1" fill="none" stroke="#f4a0a5" stroke-width="4.1"/>
<path d="M605.95 1062.8H621.65" stroke="#f4a0a5" stroke-width="4.1"/>
<rect x="655.75" y="1021.05" width="15.7" height="23.8" fill="none" stroke="#8487c6" stroke-width="4.1"/>
<path d="M655.75 1028.9H671.45" stroke="#8487c6" stroke-width="4.1"/>
<rect x="685.55" y="906.05" width="15.7" height="25.9" fill="none" stroke="#f4a0a5" stroke-width="4.1"/>
<path d="M685.55 919.6H701.25" stroke="#f4a0a5" stroke-width="4.1"/>
<path d="M187.2 1086.4V968.15H211.2V982.3" stroke="#000" stroke-width="2.7" fill="none" stroke-linecap="butt" stroke-linejoin="miter"/>
<path d="M192 944V957M186.37 947.25L197.63 953.75M186.37 953.75L197.63 947.25" stroke="#000" stroke-width="2.6" fill="none"/>
<path d="M207.7 944V957M202.07 947.25L213.33 953.75M202.07 953.75L213.33 947.25" stroke="#000" stroke-width="2.6" fill="none"/>
<path d="M267.7 1008.8V928.55H294V942.7" stroke="#000" stroke-width="2.7" fill="none" stroke-linecap="butt" stroke-linejoin="miter"/>
<path d="M281.2 903.8V917.4M275.31 907.2L287.09 914M275.31 914L287.09 907.2" stroke="#000" stroke-width="2.6" fill="none"/>
<path d="M348.3 1139.5V1114.05H371.5V1128" stroke="#000" stroke-width="2.7" fill="none" stroke-linecap="butt" stroke-linejoin="miter"/>
<path d="M352 1089.3V1102.3M346.37 1092.55L357.63 1099.05M346.37 1099.05L357.63 1092.55" stroke="#000" stroke-width="2.6" fill="none"/>
<path d="M368 1089.3V1102.3M362.37 1092.55L373.63 1099.05M362.37 1099.05L373.63 1092.55" stroke="#000" stroke-width="2.6" fill="none"/>
<path d="M664.1 1000.8V883.55H693.6V893.1" stroke="#000" stroke-width="2.7" fill="none" stroke-linecap="butt" stroke-linejoin="miter"/>
<path d="M672 857.9V871.1M666.28 861.2L677.72 867.8M666.28 867.8L677.72 861.2" stroke="#000" stroke-width="2.6" fill="none"/>
<path d="M687.8 857.9V871.1M682.08 861.2L693.52 867.8M682.08 867.8L693.52 861.2" stroke="#000" stroke-width="2.6" fill="none"/>
<path d="M166.3 877.7V1157.5H716.6" stroke="#000" stroke-width="2.6" fill="none" stroke-linejoin="miter" stroke-linecap="square"/>
<path d="M154.4 877.7H166.3" stroke="#000" stroke-width="2.6"/>
<path d="M119.9 865.8L119.9 888.7L116.8 888.7L116.8 871.7L110.85 874.9L110.35 872.1Q116.2 869.4 117.7 865.8Z" fill="#000"/>
<text transform="translate(150.5 888.3) scale(1 1.07)" font-size="30.2" text-anchor="end" >.0</text>
<path d="M154.4 1017.6H166.3" stroke="#000" stroke-width="2.6"/>
<text transform="translate(150.5 1028.2) scale(1 1.07)" font-size="30.2" text-anchor="end" >0.5</text>
<path d="M154.4 1157.5H166.3" stroke="#000" stroke-width="2.6"/>
<text transform="translate(150.5 1168.1) scale(1 1.07)" font-size="30.2" text-anchor="end" >0.0</text>
<path d="M159.3 947.6H166.3" stroke="#000" stroke-width="2.6"/>
<path d="M159.3 1087.5H166.3" stroke="#000" stroke-width="2.6"/>
<path d="M200.6 1157.5V1169" stroke="#000" stroke-width="2.6"/>
<text transform="translate(200.6 1199) scale(1 1.08)" font-size="31.35" text-anchor="middle" >Asp</text>
<path d="M280.2 1157.5V1169" stroke="#000" stroke-width="2.6"/>
<text transform="translate(280.2 1199) scale(1 1.08)" font-size="31.35" text-anchor="middle" >Glu</text>
<path d="M359.8 1157.5V1169" stroke="#000" stroke-width="2.6"/>
<text transform="translate(359.8 1199) scale(1 1.08)" font-size="31.35" text-anchor="middle" >Ser</text>
<path d="M439.4 1157.5V1169" stroke="#000" stroke-width="2.6"/>
<text transform="translate(439.4 1199) scale(1 1.08)" font-size="31.35" text-anchor="middle" >Gly</text>
<path d="M519 1157.5V1169" stroke="#000" stroke-width="2.6"/>
<text transform="translate(519 1199) scale(1 1.08)" font-size="31.35" text-anchor="middle" >Thr</text>
<path d="M598.6 1157.5V1169" stroke="#000" stroke-width="2.6"/>
<text transform="translate(598.6 1199) scale(1 1.08)" font-size="31.35" text-anchor="middle" >Arg</text>
<path d="M678.2 1157.5V1169" stroke="#000" stroke-width="2.6"/>
<text transform="translate(678.2 1199) scale(1 1.08)" font-size="31.35" text-anchor="middle" >Ala</text>
<text transform="translate(52.3 1011.8) rotate(-90)" font-size="31.55" text-anchor="middle">Sweet/fresh amino acids</text>
<text transform="translate(89.6 1007) rotate(-90)" font-size="31.55" text-anchor="middle">in male gonad (mg/g.fw)</text>
<rect x="373.3" y="869.2" width="25.3" height="10.4" fill="none" stroke="#8487c6" stroke-width="4.2"/>
<text transform="translate(416.7 882.7) scale(1 1.1)" font-size="22.6" text-anchor="start" >CK</text>
<rect x="373.3" y="906.9" width="25.3" height="9.9" fill="none" stroke="#f4a0a5" stroke-width="4.2"/>
<text transform="translate(416.7 920.2) scale(1 1.1)" font-size="22.6" text-anchor="start" >BSF</text>
<rect x="860.8" y="1153" width="19.8" height="7.1" fill="#333333"/>
<rect x="890.7" y="1155" width="19.8" height="6.6" fill="#f09bc3"/>
<rect x="942.4" y="1066.05" width="15.7" height="35.6" fill="none" stroke="#333333" stroke-width="4.1"/>
<path d="M942.4 1083.3H958.1" stroke="#333333" stroke-width="4.1"/>
<rect x="972.3" y="1064.25" width="15.7" height="36.5" fill="none" stroke="#f09bc3" stroke-width="4.1"/>
<path d="M972.3 1083.25H988" stroke="#f09bc3" stroke-width="4.1"/>
<rect x="1019.9" y="1151.5" width="19.8" height="6.5" fill="#333333"/>
<rect x="1049.8" y="1150.6" width="19.8" height="7.4" fill="#f09bc3"/>
<rect x="1099.45" y="1113.9" width="19.8" height="12.6" fill="#333333"/>
<rect x="1103.55" y="1121" width="11.6" height="2" fill="#aaaaaa"/>
<rect x="1129.35" y="1116.8" width="19.8" height="14.7" fill="#f09bc3"/>
<rect x="1133.45" y="1121" width="11.6" height="3" fill="#fafafa"/>
<rect x="1181.05" y="1112.55" width="15.7" height="21.4" fill="none" stroke="#333333" stroke-width="4.1"/>
<path d="M1181.05 1122.15H1196.75" stroke="#333333" stroke-width="4.1"/>
<rect x="1208.9" y="1125.9" width="19.8" height="5.9" fill="#f09bc3"/>
<rect x="1260.6" y="941.85" width="15.7" height="58" fill="none" stroke="#333333" stroke-width="4.1"/>
<path d="M1260.6 963.1H1276.3" stroke="#333333" stroke-width="4.1"/>
<rect x="1290.5" y="935.35" width="15.7" height="40.5" fill="none" stroke="#f09bc3" stroke-width="4.1"/>
<path d="M1290.5 955.4H1306.2" stroke="#f09bc3" stroke-width="4.1"/>
<rect x="1340.15" y="1092.65" width="15.7" height="15.9" fill="none" stroke="#333333" stroke-width="4.1"/>
<path d="M1340.15 1099H1355.85" stroke="#333333" stroke-width="4.1"/>
<rect x="1368" y="1100.2" width="19.8" height="5.1" fill="#f09bc3"/>
<path d="M850.3 882.3V1162.2H1401" stroke="#000" stroke-width="2.6" fill="none" stroke-linejoin="miter" stroke-linecap="square"/>
<path d="M839.5 882.3H850.3" stroke="#000" stroke-width="2.6"/>
<text transform="translate(834.5 893.6) scale(1 1.07)" font-size="30.2" text-anchor="end" >2</text>
<path d="M839.5 1022.4H850.3" stroke="#000" stroke-width="2.6"/>
<path d="M830 1010.3L830 1033L826.9 1033L826.9 1016.2L821.8 1019.4L821.3 1016.6Q826.3 1013.9 827.8 1010.3Z" fill="#000"/>
<path d="M839.5 1162.2H850.3" stroke="#000" stroke-width="2.6"/>
<text transform="translate(834.5 1173.5) scale(1 1.07)" font-size="30.2" text-anchor="end" >0</text>
<path d="M845 952.4H850.3" stroke="#000" stroke-width="2.6"/>
<path d="M845 1092.4H850.3" stroke="#000" stroke-width="2.6"/>
<path d="M885.4 1162.2V1174.3" stroke="#000" stroke-width="2.6"/>
<text transform="translate(885.4 1203.7) scale(1 1.08)" font-size="31.35" text-anchor="middle" >Asp</text>
<path d="M964.95 1162.2V1174.3" stroke="#000" stroke-width="2.6"/>
<text transform="translate(964.95 1203.7) scale(1 1.08)" font-size="31.35" text-anchor="middle" >Glu</text>
<path d="M1044.5 1162.2V1174.3" stroke="#000" stroke-width="2.6"/>
<text transform="translate(1044.5 1203.7) scale(1 1.08)" font-size="31.35" text-anchor="middle" >Ser</text>
<path d="M1124.05 1162.2V1174.3" stroke="#000" stroke-width="2.6"/>
<text transform="translate(1124.05 1203.7) scale(1 1.08)" font-size="31.35" text-anchor="middle" >Gly</text>
<path d="M1203.6 1162.2V1174.3" stroke="#000" stroke-width="2.6"/>
<text transform="translate(1203.6 1203.7) scale(1 1.08)" font-size="31.35" text-anchor="middle" >Thr</text>
<path d="M1283.15 1162.2V1174.3" stroke="#000" stroke-width="2.6"/>
<text transform="translate(1283.15 1203.7) scale(1 1.08)" font-size="31.35" text-anchor="middle" >Arg</text>
<path d="M1362.7 1162.2V1174.3" stroke="#000" stroke-width="2.6"/>
<text transform="translate(1362.7 1203.7) scale(1 1.08)" font-size="31.35" text-anchor="middle" >Ala</text>
<text transform="translate(763.8 1017.5) rotate(-90)" font-size="31.55" text-anchor="middle">Sweet/fresh amino acids</text>
<text transform="translate(800.7 1012.5) rotate(-90)" font-size="31.55" text-anchor="middle">in female gonad (mg/g.fw)</text>
<rect x="868.3" y="883.6" width="24.5" height="9.7" fill="none" stroke="#333333" stroke-width="4.2"/>
<text transform="translate(911.5 896.9) scale(1 1.1)" font-size="22.6" text-anchor="start" >CK</text>
<rect x="868.3" y="921.7" width="24.5" height="8.5" fill="none" stroke="#f09bc3" stroke-width="4.2"/>
<text transform="translate(911.5 934.4) scale(1 1.1)" font-size="22.6" text-anchor="start" >BSF</text>
</svg>
</body></html>
